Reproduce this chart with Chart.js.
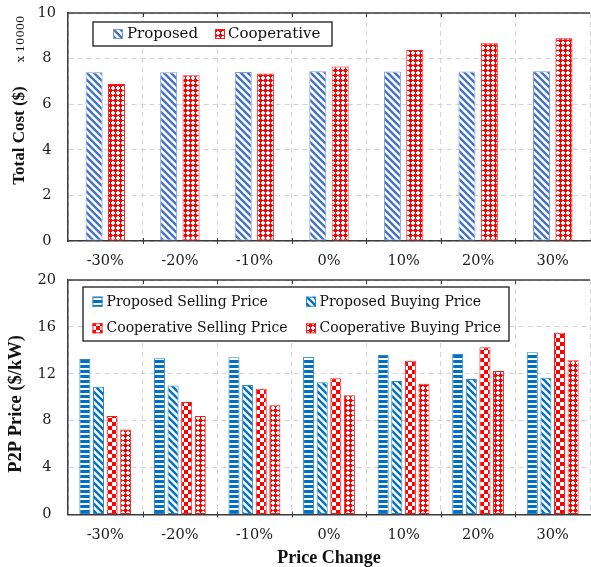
<!DOCTYPE html>
<html>
<head>
<meta charset="utf-8">
<script src="https://cdn.jsdelivr.net/npm/chart.js@4.4.1/dist/chart.umd.min.js"></script>
<style>
  html, body { margin: 0; padding: 0; background: #fff; }
  body { width: 591px; height: 567px; position: relative; overflow: hidden; }
  #costChart { position: absolute; left: 0; top: 0; }
  #priceChart { position: absolute; left: 0; top: 270px; }
</style>
</head>
<body>
<canvas id="costChart" width="591" height="270"></canvas>
<canvas id="priceChart" width="591" height="297"></canvas>
<script>
// ---- data ----
const priceChanges = ['-30%', '-20%', '-10%', '0%', '10%', '20%', '30%'];

// total cost, in units of 10000 $
const proposedCost    = [7.40, 7.40, 7.41, 7.45, 7.43, 7.43, 7.45];
const cooperativeCost = [6.89, 7.27, 7.35, 7.65, 8.38, 8.67, 8.89];
const costTicks = [0, 2, 4, 6, 8, 10];

// P2P prices, $/kW
const proposedSelling    = [13.27, 13.33, 13.41, 13.46, 13.61, 13.69, 13.84];
const proposedBuying     = [10.90, 11.00, 11.05, 11.28, 11.39, 11.56, 11.67];
const cooperativeSelling = [8.40, 9.60, 10.73, 11.62, 13.12, 14.27, 15.51];
const cooperativeBuying  = [7.24, 8.40, 9.32, 10.17, 11.16, 12.24, 13.16];
const priceTicks = [0, 4, 8, 12, 16, 20];

// ---- look ----
const SERIF = "'DejaVu Serif', serif";
const TITLE_SERIF = "'Liberation Serif', 'Times New Roman', serif";
const BLUE_A = '#4472C4', BLUE_A_EDGE = '#7d9bd6';
const BLUE_B = '#0070C0', BLUE_B_EDGE = '#2f86cc';
const RED = '#ff0000', RED_EDGE = '#ff1a1a';
const AXIS = '#3a3a3a', GRID = '#d4d4d4';

Chart.defaults.font.family = SERIF;
Chart.defaults.font.size = 14.5;
Chart.defaults.color = '#1a1a1a';

// ---- fill patterns ----
function tile(ctx, w, h, paint) {
  const c = document.createElement('canvas');
  c.width = w; c.height = h;
  const g = c.getContext('2d');
  g.fillStyle = '#ffffff';
  g.fillRect(0, 0, w, h);
  paint(g, w, h);
  return ctx.createPattern(c, 'repeat');
}
function diagonal(ctx, color, size, width) {
  return tile(ctx, size, size, (g, w) => {
    g.strokeStyle = color; g.lineWidth = width;
    g.beginPath();
    g.moveTo(-w, -w); g.lineTo(2 * w, 2 * w);
    g.moveTo(-w, 0); g.lineTo(w, 2 * w);
    g.moveTo(0, -w); g.lineTo(2 * w, w);
    g.stroke();
  });
}
function horizontal(ctx, color) {
  return tile(ctx, 4, 5, g => { g.fillStyle = color; g.fillRect(0, 0, 4, 3); });
}
function checker(ctx, color) {
  return tile(ctx, 8, 8, g => {
    g.fillStyle = color;
    g.fillRect(0, 0, 4, 4); g.fillRect(4, 4, 4, 4);
  });
}
// red lattice with small white crosses
function crosslets(ctx, color) {
  return tile(ctx, 5, 5, g => {
    g.fillStyle = color;
    g.fillRect(0, 0, 5, 1); g.fillRect(0, 0, 1, 5);
    g.fillRect(1, 1, 1, 1); g.fillRect(4, 1, 1, 1);
    g.fillRect(1, 4, 1, 1); g.fillRect(4, 4, 1, 1);
  });
}

// ---- plugins ----
// outer frame: top border line with inward ticks, small ticks on the category axis
const framePlugin = {
  id: 'frame',
  afterDraw(chart) {
    const { ctx, chartArea: a } = chart;
    const x = chart.scales.x;
    ctx.save();
    ctx.strokeStyle = AXIS; ctx.lineWidth = 1.5;
    ctx.beginPath();
    ctx.moveTo(a.left, a.top); ctx.lineTo(a.right, a.top);
    ctx.stroke();
    ctx.lineWidth = 1;
    ctx.beginPath();
    for (let i = 1; i < chart.data.labels.length; i++) {
      const px = Math.round((x.getPixelForTick(i - 1) + x.getPixelForTick(i)) / 2) + 0.5;
      ctx.moveTo(px, a.top); ctx.lineTo(px, a.top + 4);
      ctx.moveTo(px, a.bottom - 3); ctx.lineTo(px, a.bottom + 3);
    }
    ctx.stroke();
    ctx.restore();
  }
};

// framed legend placed inside the plot
const boxLegend = {
  id: 'boxLegend',
  afterDraw(chart, args, opts) {
    if (!opts || !opts.items) return;
    const ctx = chart.ctx, b = opts.box;
    ctx.save();
    ctx.fillStyle = '#ffffff';
    ctx.fillRect(b.x, b.y, b.w, b.h);
    ctx.strokeStyle = '#1a1a1a'; ctx.lineWidth = 1.3;
    ctx.strokeRect(b.x, b.y, b.w, b.h);
    ctx.font = opts.font;
    ctx.textBaseline = 'middle';
    opts.items.forEach(it => {
      const ds = chart.data.datasets[it.dataset];
      ctx.fillStyle = ds.backgroundColor;
      ctx.fillRect(it.x, it.y - 5, 10, 10);
      ctx.strokeStyle = ds.borderColor; ctx.lineWidth = 1;
      ctx.strokeRect(it.x + 0.5, it.y - 4.5, 9, 9);
      ctx.fillStyle = '#111111';
      ctx.fillText(ds.label, it.textX, it.y + 0.5);
    });
    ctx.restore();
  }
};

// free text: axis titles and the scale note
const textPlugin = {
  id: 'freeText',
  afterDraw(chart, args, opts) {
    if (!opts || !opts.items) return;
    const ctx = chart.ctx;
    opts.items.forEach(t => {
      ctx.save();
      ctx.translate(t.x, t.y);
      ctx.rotate(t.rotate || 0);
      ctx.font = t.font;
      ctx.fillStyle = '#111111';
      ctx.textAlign = 'center';
      ctx.textBaseline = 'middle';
      ctx.fillText(t.text, 0, 0);
      ctx.restore();
    });
  }
};

function fixedWidth(w) {
  return scale => { scale.width = w; scale.paddingTop = 0; scale.paddingBottom = 0; };
}
function fixedHeight(h) {
  return scale => { scale.height = h; scale.paddingLeft = 0; scale.paddingRight = 0; };
}
function useTicks(list) { return scale => { scale.ticks = list.map(v => ({ value: v })); }; }

function gridAxis(extra) {
  return Object.assign({
    grid: { color: GRID, lineWidth: 1, drawTicks: false },
    border: { display: true, color: AXIS, width: 1.5, dash: [5, 4] }
  }, extra);
}

// ---- total cost chart ----
const costCtx = document.getElementById('costChart').getContext('2d');
new Chart(costCtx, {
  type: 'bar',
  data: {
    labels: priceChanges,
    datasets: [
      { label: 'Proposed', data: proposedCost,
        backgroundColor: diagonal(costCtx, BLUE_A, 7, 2.4), borderColor: BLUE_A_EDGE },
      { label: 'Cooperative', data: cooperativeCost,
        backgroundColor: crosslets(costCtx, RED), borderColor: RED_EDGE }
    ]
  },
  options: {
    responsive: false,
    animation: false,
    devicePixelRatio: 1,
    layout: { padding: { top: 13, right: 1, left: 0, bottom: 0 } },
    datasets: { bar: { categoryPercentage: 0.6, barPercentage: 0.76, borderWidth: 1, borderSkipped: false } },
    scales: {
      x: gridAxis({
        ticks: { padding: 12, font: { size: 14.5 } },
        afterFit: fixedHeight(29)
      }),
      y: gridAxis({
        min: 0, max: 10,
        afterBuildTicks: useTicks(costTicks),
        ticks: { padding: 12, crossAlign: 'center', font: { size: 14.5 } },
        afterFit: fixedWidth(68)
      })
    },
    plugins: {
      legend: { display: false },
      tooltip: { enabled: false },
      boxLegend: {
        font: "15px " + SERIF,
        box: { x: 93, y: 22, w: 239, h: 24 },
        items: [
          { dataset: 0, x: 113, y: 34, textX: 127 },
          { dataset: 1, x: 215, y: 34, textX: 228 }
        ]
      },
      freeText: {
        items: [
          { text: 'Total Cost ($)', x: 19.5, y: 135.5, rotate: -Math.PI / 2, font: "bold 17px " + TITLE_SERIF },
          { text: 'x 10000', x: 21, y: 39, rotate: -Math.PI / 2, font: "11.5px " + SERIF }
        ]
      }
    }
  },
  plugins: [framePlugin, boxLegend, textPlugin]
});

// ---- P2P price chart ----
const priceCtx = document.getElementById('priceChart').getContext('2d');
new Chart(priceCtx, {
  type: 'bar',
  data: {
    labels: priceChanges,
    datasets: [
      { label: 'Proposed Selling Price', data: proposedSelling,
        backgroundColor: horizontal(priceCtx, BLUE_B), borderColor: BLUE_B_EDGE },
      { label: 'Proposed Buying Price', data: proposedBuying,
        backgroundColor: diagonal(priceCtx, BLUE_B, 7, 2.4), borderColor: BLUE_B_EDGE },
      { label: 'Cooperative Selling Price', data: cooperativeSelling,
        backgroundColor: checker(priceCtx, RED), borderColor: RED_EDGE },
      { label: 'Cooperative Buying Price', data: cooperativeBuying,
        backgroundColor: crosslets(priceCtx, RED), borderColor: RED_EDGE }
    ]
  },
  options: {
    responsive: false,
    animation: false,
    devicePixelRatio: 1,
    layout: { padding: { top: 10, right: 1, left: 0, bottom: 0 } },
    datasets: { bar: { categoryPercentage: 0.73, barPercentage: 0.81, borderWidth: 1, borderSkipped: false } },
    scales: {
      x: gridAxis({
        ticks: { padding: 12, font: { size: 14.5 } },
        title: { display: true, text: 'Price Change', padding: { top: 0, bottom: 0 },
                 font: { family: TITLE_SERIF, size: 18, weight: 'bold', lineHeight: 1 }, color: '#111111' },
        afterFit: fixedHeight(52.5)
      }),
      y: gridAxis({
        min: 0, max: 20,
        afterBuildTicks: useTicks(priceTicks),
        ticks: { padding: 12, crossAlign: 'center', font: { size: 14.5 } },
        afterFit: fixedWidth(68)
      })
    },
    plugins: {
      legend: { display: false },
      tooltip: { enabled: false },
      boxLegend: {
        font: "14px " + SERIF,
        box: { x: 83, y: 17, w: 426, h: 54 },
        items: [
          { dataset: 0, x: 92.5, y: 31.7, textX: 106.5 },
          { dataset: 1, x: 306, y: 31.7, textX: 319.5 },
          { dataset: 2, x: 92.5, y: 58.3, textX: 106.5 },
          { dataset: 3, x: 306, y: 58.3, textX: 319.5 }
        ]
      },
      freeText: {
        items: [
          { text: 'P2P Price ($/kW)', x: 16.5, y: 134, rotate: -Math.PI / 2, font: "bold 18.5px " + TITLE_SERIF }
        ]
      }
    }
  },
  plugins: [framePlugin, boxLegend, textPlugin]
});
</script>
</body>
</html>
